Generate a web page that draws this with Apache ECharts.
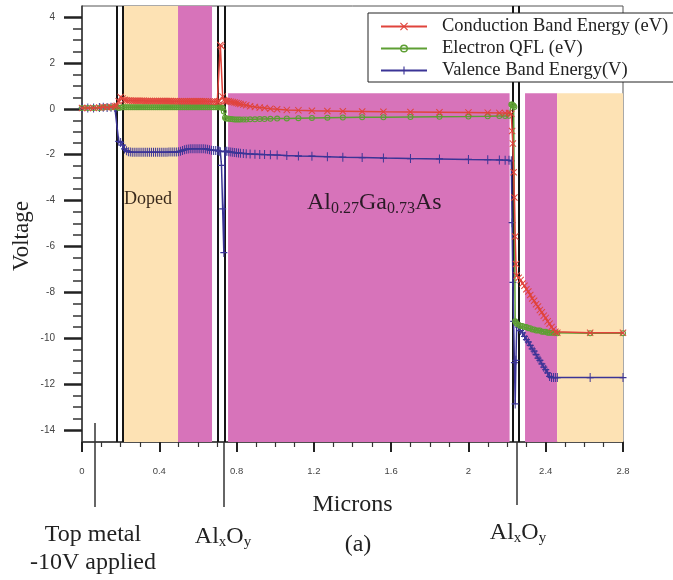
<!DOCTYPE html>
<html>
<head>
<meta charset="utf-8">
<script src="https://cdn.jsdelivr.net/npm/echarts@6/dist/echarts.min.js"></script>
<style>
  html, body { margin: 0; padding: 0; background: #fff; }
  #chart { width: 673px; height: 580px; }
</style>
</head>
<body>
<div id="chart"></div>
<script>
// simulation mesh (microns)
const microns = [
  // top contact
  0, 0.03, 0.06, 0.09, 0.11, 0.13, 0.15, 0.17, 0.18,
  // doped layer
  0.19, 0.2, 0.21, 0.22, 0.23, 0.24, 0.25, 0.26, 0.27, 0.28,
  0.29, 0.3, 0.31, 0.32, 0.33, 0.34, 0.35, 0.36, 0.37, 0.38,
  0.39, 0.4, 0.41, 0.42, 0.43, 0.44, 0.45, 0.46, 0.47, 0.48,
  0.49, 0.5, 0.51, 0.52, 0.53, 0.54, 0.55, 0.56, 0.57, 0.58,
  0.59, 0.6, 0.61, 0.62, 0.63, 0.64, 0.65, 0.66, 0.67, 0.68,
  0.69, 0.7,
  // first oxide
  0.705, 0.71, 0.716, 0.722, 0.728, 0.734, 0.74, 0.745,
  // AlGaAs
  0.75, 0.76, 0.77, 0.78, 0.79, 0.8, 0.81, 0.82, 0.835, 0.85,
  0.87, 0.895, 0.92, 0.945, 0.975, 1.01, 1.06, 1.12, 1.19, 1.27,
  1.35, 1.45, 1.56, 1.7, 1.85, 2.0, 2.1, 2.16, 2.19, 2.21,
  // second oxide
  2.222, 2.226, 2.23, 2.234, 2.238, 2.242, 2.246, 2.25,
  // bottom side
  2.26, 2.27, 2.28, 2.29, 2.3, 2.31, 2.32, 2.33, 2.34, 2.35,
  2.36, 2.37, 2.38, 2.39, 2.4, 2.41, 2.42, 2.43, 2.44, 2.45,
  2.46, 2.63, 2.8
];

const conduction = [
  0, 0, 0, 0.02, 0.05, 0.03, 0.05, 0.08, 0.1,
  0.3, 0.48, 0.42, 0.36, 0.34, 0.33, 0.33, 0.32, 0.32, 0.32,
  0.32, 0.32, 0.32, 0.32, 0.31, 0.31, 0.31, 0.31, 0.31, 0.31,
  0.31, 0.31, 0.31, 0.31, 0.31, 0.31, 0.31, 0.31, 0.3, 0.3,
  0.3, 0.3, 0.3, 0.3, 0.3, 0.3, 0.3, 0.3, 0.3, 0.3,
  0.3, 0.3, 0.3, 0.3, 0.3, 0.3, 0.29, 0.29, 0.28, 0.28,
  0.28, 0.27,
  0.27, 0.3, 2.75, 2.7, 0.5, 0.35, 0.32, 0.3,
  0.3, 0.3, 0.28, 0.26, 0.24, 0.22, 0.2, 0.18, 0.15, 0.12,
  0.08, 0.05, 0.02, 0, -0.03, -0.05, -0.08, -0.1, -0.12, -0.13,
  -0.14, -0.15, -0.16, -0.17, -0.18, -0.19, -0.2, -0.21, -0.22, -0.22,
  -0.25, -1.0, -1.55, -2.8, -3.9, -5.6, -6.8, -7.3,
  -7.4, -7.5, -7.65, -7.75, -7.9, -8.0, -8.15, -8.3, -8.4, -8.55,
  -8.65, -8.8, -8.9, -9.05, -9.15, -9.3, -9.4, -9.55, -9.65, -9.75,
  -9.8, -9.8, -9.8
];

const electronQfl = [
  0, 0, 0, 0, 0.02, 0.03, 0.02, 0.05, 0.05,
  0, 0.02, 0.03, 0.04, 0.04, 0.04, 0.04, 0.04, 0.04, 0.04,
  0.04, 0.04, 0.04, 0.04, 0.04, 0.04, 0.04, 0.04, 0.04, 0.04,
  0.04, 0.04, 0.04, 0.04, 0.04, 0.04, 0.04, 0.04, 0.04, 0.04,
  0.04, 0.04, 0.04, 0.04, 0.04, 0.04, 0.04, 0.03, 0.03, 0.03,
  0.03, 0.03, 0.03, 0.03, 0.03, 0.03, 0.03, 0.03, 0.03, 0.03,
  0.03, 0.03,
  0.03, 0.03, 0.03, 0.02, 0, -0.15, -0.42, -0.45,
  -0.45, -0.47, -0.48, -0.49, -0.5, -0.5, -0.5, -0.5, -0.5, -0.5,
  -0.49, -0.49, -0.48, -0.48, -0.47, -0.46, -0.45, -0.44, -0.43, -0.42,
  -0.41, -0.4, -0.4, -0.39, -0.38, -0.37, -0.36, -0.35, -0.35, -0.34,
  0.15, 0.15, 0.12, 0.1, 0.05, -9.3, -9.35, -9.4,
  -9.45, -9.5, -9.5, -9.55, -9.55, -9.6, -9.6, -9.65, -9.65, -9.7,
  -9.7, -9.7, -9.75, -9.75, -9.75, -9.8, -9.8, -9.8, -9.8, -9.8,
  -9.82, -9.82, -9.82
];

const valence = [
  0, 0, 0, 0.02, 0.03, 0.02, 0.03, 0.02, 0,
  -1.45, -1.5, -1.62, -1.78, -1.86, -1.9, -1.92, -1.93, -1.93, -1.93,
  -1.93, -1.93, -1.93, -1.93, -1.93, -1.93, -1.93, -1.93, -1.93, -1.93,
  -1.93, -1.93, -1.93, -1.93, -1.93, -1.93, -1.92, -1.92, -1.92, -1.92,
  -1.92, -1.9, -1.88, -1.85, -1.82, -1.8, -1.78, -1.77, -1.77, -1.77,
  -1.77, -1.77, -1.77, -1.77, -1.77, -1.78, -1.8, -1.82, -1.84, -1.85,
  -1.85, -1.85,
  -1.86, -1.88, -1.9, -2.5, -4.4, -6.3, -1.9, -1.88,
  -1.88, -1.9, -1.92, -1.93, -1.94, -1.95, -1.96, -1.97, -1.98, -1.99,
  -2.0, -2.01, -2.02, -2.03, -2.04, -2.05, -2.07, -2.09, -2.1, -2.12,
  -2.14, -2.16, -2.18, -2.2, -2.22, -2.24, -2.25, -2.26, -2.27, -2.28,
  -2.3, -5.0, -7.6, -9.3, -11.1, -12.9, -11.0, -9.4,
  -9.55, -9.7, -9.8, -9.95, -10.1, -10.2, -10.35, -10.5, -10.6, -10.75,
  -10.9, -11.0, -11.15, -11.3, -11.4, -11.55, -11.7, -11.75, -11.75, -11.75,
  -11.75, -11.75, -11.75
];

// layer boundaries (microns)
const dopedLayer = [0.217, 0.497];
const pinkLayer = [0.497, 0.673];
const algaasLayer = [0.756, 2.213];
const pinkLayer2 = [2.293, 2.459];
const dopedLayer2 = [2.459, 2.8];
const oxideEdges = [0.181, 0.207, 0.704, 0.745, 2.226, 2.257];
const lowerBandTop = 0.65; // volts

const yMin = -14.56, yMax = 4.45;
const YELLOW = '#fde2b4';
const PINK = '#d773ba';

const crossSym = 'path://M0,1L1,0L5,4L9,0L10,1L6,5L10,9L9,10L5,6L1,10L0,9L4,5Z';
const plusSym = 'path://M4.3,0H5.7V4.3H10V5.7H5.7V10H4.3V5.7H0V4.3H4.3Z';
const ringSym = 'path://M5,0A5,5 0 1,1 5,10A5,5 0 1,1 5,0ZM5,1.8A3.2,3.2 0 1,0 5,8.2A3.2,3.2 0 1,0 5,1.8Z';

const pairs = ys => microns.map((x, i) => [x, ys[i]]);

const serif = 'Liberation Serif';
const subText = (x, y, text) => ({
  type: 'text', x: x, y: y, z: 20,
  style: {
    text: text, fill: '#222', align: 'center', verticalAlign: 'middle',
    rich: {
      m: { fontSize: 24, fontFamily: serif, lineHeight: 26, verticalAlign: 'middle' },
      s: { fontSize: 15, fontFamily: serif, lineHeight: 12, verticalAlign: 'bottom' }
    }
  }
});
const plainText = (x, y, text, size, color) => ({
  type: 'text', x: x, y: y, z: 20,
  style: { text: text, font: size + 'px "Liberation Serif"', fill: color, align: 'center', verticalAlign: 'middle' }
});

let chart = echarts.init(document.getElementById('chart'));
chart.setOption({
  animation: false,
  legend: {
    data: ['Conduction Band Energy (eV)', 'Electron QFL (eV)', 'Valence Band Energy(V)'],
    orient: 'vertical',
    left: 368,
    top: 13,
    itemWidth: 46,
    itemHeight: 10,
    itemGap: 3,
    padding: [4, 6, 2, 12],
    backgroundColor: '#fff',
    borderColor: '#222',
    borderWidth: 1,
    textStyle: { fontFamily: serif, fontSize: 18.5, color: '#222', padding: [0, 0, 0, 10] }
  },
  grid: [
    { left: 82, top: 6, width: 541, height: 436, show: true, borderColor: '#555', borderWidth: 1, backgroundColor: 'transparent' },
    { left: 82, top: 17, width: 541, height: 413 }
  ],
  xAxis: [
    {
      type: 'value', gridIndex: 0, min: 0, max: 2.8, interval: 0.4,
      axisLine: { show: true, onZero: false, lineStyle: { color: '#333', width: 1.5 } },
      axisTick: { show: true, length: 10, lineStyle: { color: '#222', width: 2 } },
      minorTick: { show: true, splitNumber: 4, length: 5, lineStyle: { color: '#333', width: 1.2 } },
      axisLabel: { margin: 24, fontSize: 9.5, color: '#444', fontFamily: 'Liberation Sans' },
      splitLine: { show: false },
      name: 'Microns', nameLocation: 'middle', nameGap: 51,
      nameTextStyle: { fontFamily: serif, fontSize: 24, color: '#222' }
    },
    { type: 'value', gridIndex: 1, min: 0, max: 2.8, show: false }
  ],
  yAxis: [
    {
      type: 'value', gridIndex: 0, min: yMin, max: yMax,
      axisLine: { show: true, onZero: false, lineStyle: { color: '#333', width: 1.5 } },
      axisTick: { show: false }, axisLabel: { show: false }, splitLine: { show: false }
    },
    {
      type: 'value', gridIndex: 1, min: -14, max: 4, interval: 2,
      axisLine: { show: false, onZero: false },
      axisTick: { show: true, length: 18, lineStyle: { color: '#222', width: 2.5 } },
      minorTick: { show: true, splitNumber: 4, length: 9, lineStyle: { color: '#333', width: 1.5 } },
      axisLabel: { margin: 27, fontSize: 10, color: '#444', fontFamily: 'Liberation Sans' },
      splitLine: { show: false }
    }
  ],
  series: [
    {
      type: 'line', data: [], silent: true, z: 1,
      markArea: {
        silent: true, z: 1,
        data: [
          [{ xAxis: dopedLayer[0], itemStyle: { color: YELLOW } }, { xAxis: dopedLayer[1] }],
          [{ xAxis: pinkLayer[0], itemStyle: { color: PINK } }, { xAxis: pinkLayer[1] }],
          [{ xAxis: algaasLayer[0], yAxis: lowerBandTop, itemStyle: { color: PINK } }, { xAxis: algaasLayer[1], yAxis: yMin }],
          [{ xAxis: pinkLayer2[0], yAxis: lowerBandTop, itemStyle: { color: PINK } }, { xAxis: pinkLayer2[1], yAxis: yMin }],
          [{ xAxis: dopedLayer2[0], yAxis: lowerBandTop, itemStyle: { color: YELLOW } }, { xAxis: dopedLayer2[1], yAxis: yMin }]
        ]
      },
      markLine: {
        silent: true, z: 2, symbol: ['none', 'none'],
        label: { show: false },
        lineStyle: { color: '#151515', width: 2, type: 'solid' },
        data: oxideEdges.map(v => ({ xAxis: v }))
      }
    },
    {
      name: 'Valence Band Energy(V)', type: 'line', data: pairs(valence), z: 10,
      symbol: plusSym, symbolSize: [7, 9], showAllSymbol: true,
      lineStyle: { color: '#3b3496', width: 1.5 }, itemStyle: { color: '#3b3496' }
    },
    {
      name: 'Electron QFL (eV)', type: 'line', data: pairs(electronQfl), z: 11,
      symbol: ringSym, symbolSize: 6, showAllSymbol: true,
      lineStyle: { color: '#5e9f34', width: 1.5 }, itemStyle: { color: '#5e9f34' }
    },
    {
      name: 'Conduction Band Energy (eV)', type: 'line', data: pairs(conduction), z: 12,
      symbol: crossSym, symbolSize: 7, showAllSymbol: true,
      lineStyle: { color: '#e0443c', width: 1.5 }, itemStyle: { color: '#e0443c' }
    }
  ],
  graphic: [
    { type: 'text', x: 22, y: 236, rotation: Math.PI / 2, z: 20,
      style: { text: 'Voltage', font: '23px "Liberation Serif"', fill: '#222', align: 'center', verticalAlign: 'middle' } },
    { type: 'text', x: 124, y: 199, z: 20,
      style: { text: 'Doped', font: '18px "Liberation Serif"', fill: '#3a2a1c', align: 'left', verticalAlign: 'middle' } },
    { type: 'text', x: 307, y: 203, z: 20,
      style: {
        text: '{m|Al}{s|0.27}{m|Ga}{s|0.73}{m|As}', fill: '#2a1a26', align: 'left', verticalAlign: 'middle',
        rich: {
          m: { fontSize: 24, fontFamily: serif, lineHeight: 28, verticalAlign: 'middle' },
          s: { fontSize: 16, fontFamily: serif, lineHeight: 12, verticalAlign: 'bottom' }
        }
      } },
    // leader lines under the axis
    { type: 'line', z: 20, shape: { x1: 95, y1: 423, x2: 95, y2: 507 }, style: { stroke: '#333', lineWidth: 1.5 } },
    { type: 'line', z: 20, shape: { x1: 224, y1: 442, x2: 224, y2: 507 }, style: { stroke: '#333', lineWidth: 1.5 } },
    { type: 'line', z: 20, shape: { x1: 517, y1: 442, x2: 517, y2: 505 }, style: { stroke: '#333', lineWidth: 1.5 } },
    plainText(93, 535, 'Top metal', 24, '#222'),
    plainText(93, 563, '-10V applied', 24, '#222'),
    plainText(358, 545, '(a)', 24, '#222'),
    subText(223, 537, '{m|Al}{s|x}{m|O}{s|y}'),
    subText(518, 533, '{m|Al}{s|x}{m|O}{s|y}')
  ]
});
</script>
</body>
</html>
